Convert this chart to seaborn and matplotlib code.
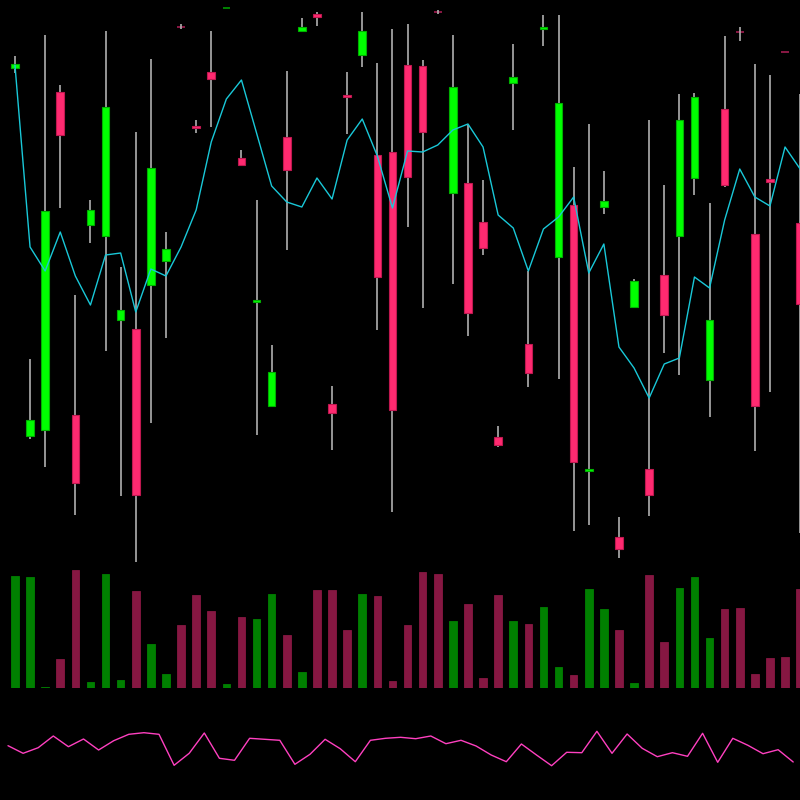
import numpy as np
import pandas as pd
import seaborn as sns
from matplotlib import pyplot as plt


# candle data (price units), one entry per session
opens = [532, 164, 170, 508, 185, 375, 364, 280, 271, 315, 339, 573.1, 472.5, 528, 592,
         442, 298, 194, 463, 569, 586, 196, 505, 545, 445, 448, 535, 534, 588.1, 407,
         417, 378, 163, 517, 256, 571, 343, 395, 129, 393, 63, 293, 131, 325, 364,
         422, 220, 491, 568.1, 366, 421, 548.1, 377]
closes = [536, 180, 389, 465, 117, 390, 493, 290, 105, 432, 351, 573, 472, 521, 592.1,
          435, 298.5, 228, 430, 573, 583, 187, 503, 569, 323, 190, 423, 468, 588, 513,
          287, 352, 155, 523, 227, 571.5, 497, 138, 129.5, 399, 51, 319, 105, 285, 480,
          503, 280, 415, 568, 194, 418, 548, 296]
highs = [544, 241, 565, 515, 305, 400, 569, 333, 468, 541, 368, 576, 480, 569, 592.1,
         450, 400, 255, 529, 582, 588, 214, 528, 588, 537, 571, 576, 540, 590, 565,
         475, 420, 174, 556, 329, 585, 585, 433, 476, 429, 83, 321, 480, 415, 506,
         507, 397, 564, 573, 536, 525, 548.1, 506]
lows = [527, 161, 133, 392, 85, 357, 249, 104, 38, 177, 262, 571, 467, 473, 592,
        435, 165, 193, 350, 568, 574, 150, 466, 533, 270, 88, 373, 292, 586, 316,
        264, 345, 153, 470, 213, 554, 221, 69, 75, 386, 42, 292, 84, 247, 225,
        405, 183, 413, 559, 149, 208, 548, 67]

# moving average line over the candles
ma_line = [535, 353, 329, 368, 324, 295, 345, 347, 288, 331, 324, 353, 390, 458, 501,
           520, 467, 414, 398, 393, 422, 401, 460, 481, 444, 392, 449, 448, 455, 470,
           476, 453, 385, 372, 329, 371, 383, 403, 327, 356, 253, 232, 202, 236, 242,
           323, 312, 380, 431, 403, 394, 453, 431]

# volume per session
volume = [112, 111, 1, 29, 118, 6, 114, 8, 97, 44, 14, 63, 93, 77, 4,
          71, 69, 94, 53, 16, 98, 98, 58, 94, 92, 7, 63, 116, 114, 67,
          84, 10, 93, 67, 64, 81, 21, 13, 99, 79, 58, 5, 113, 46, 100,
          111, 50, 79, 80, 14, 30, 31, 99]

# oscillator in the bottom panel
osc = [54.3, 46.7, 52.3, 64, 53.3, 61, 50, 59.3, 65.7, 67.3, 65.7, 34.7, 46.7, 67, 41.7,
       39.7, 61.7, 60.7, 59.7, 35.7, 45.7, 60.7, 51.3, 38.3, 59.7, 61.7, 62.7, 61.3, 64, 56.3,
       59.7, 54, 45, 38.3, 56, 45, 34.3, 47.7, 47.3, 68.7, 46.7, 66, 51.7, 43.3, 47.3,
       43.7, 66.7, 37.7, 61.7, 54.7, 46.3, 50.3, 38]


df = pd.DataFrame({'open': opens, 'close': closes, 'high': highs, 'low': lows,
                   'ma': ma_line, 'volume': volume, 'osc': osc})
df['idx'] = np.arange(len(df))
df['up'] = df['close'] >= df['open']
df['move'] = (df['close'] - df['open']).abs()


sns.set_style("dark", {'axes.facecolor': 'black', 'figure.facecolor': 'black',
                       'axes.grid': False})

fig = plt.figure(figsize=(8, 8), dpi=100)
fig.patch.set_facecolor('black')

# panel placement (fig fractions)
ax_c = fig.add_axes([0, 1 - 565 / 800, 1, 565 / 800])
ax_v = fig.add_axes([0, 1 - 688 / 800, 1, 123 / 800])
ax_o = fig.add_axes([0, 0, 1, 100 / 800])

for ax in (ax_c, ax_v, ax_o):
    ax.set_facecolor('none')
    ax.set_axis_off()

##
# candles
##
green_body = '#00ff00'
red_body = '#ff2a70'
green_dim = '#008000'
red_dim = '#861742'

ax_c.vlines(df['idx'], df['low'], df['high'], color='#b0b0b0', linewidth=1.2, zorder=2)

# near-flat sessions get a thin dim tick, the rest a normal body
flat = df[df['move'] < 0.3]
full = df[df['move'] >= 0.3]

body_lo = full[['open', 'close']].min(axis=1)
body_h = full['move'].clip(lower=2.5)
colors = np.where(full['up'], green_body, red_body)
edges = np.where(full['up'], '#00b000', '#c01850')
ax_c.bar(full['idx'], body_h, bottom=body_lo, width=0.5, color=colors,
         edgecolor=edges, linewidth=0.8, zorder=3)

flat_colors = np.where(flat['up'], green_dim, red_dim)
ax_c.bar(flat['idx'], 1.2, bottom=flat['close'] - 0.6, width=0.5, color=flat_colors,
         linewidth=0, zorder=1)

sns.lineplot(data=df, x='idx', y='ma', ax=ax_c, color='#19c8d8', linewidth=1.0, zorder=4)

ax_c.set_xlim(-0.99, 51.99)
ax_c.set_ylim(35, 600)

##
# volume
##
vol_colors = np.where(df['up'], green_dim, red_dim)
ax_v.bar(df['idx'], df['volume'], width=0.5, color=vol_colors,
         edgecolor=vol_colors, linewidth=0.6)
ax_v.set_xlim(-0.99, 51.99)
ax_v.set_ylim(0, 123)

##
# oscillator
##
sns.lineplot(data=df, x='idx', y='osc', ax=ax_o, color='#ff40c0', linewidth=1.0)
ax_o.set_xlim(-0.53, 52.45)
ax_o.set_ylim(0, 100)

for ax in (ax_c, ax_v, ax_o):
    ax.set_axis_off()

plt.savefig('out.png', dpi=100, facecolor='black')
